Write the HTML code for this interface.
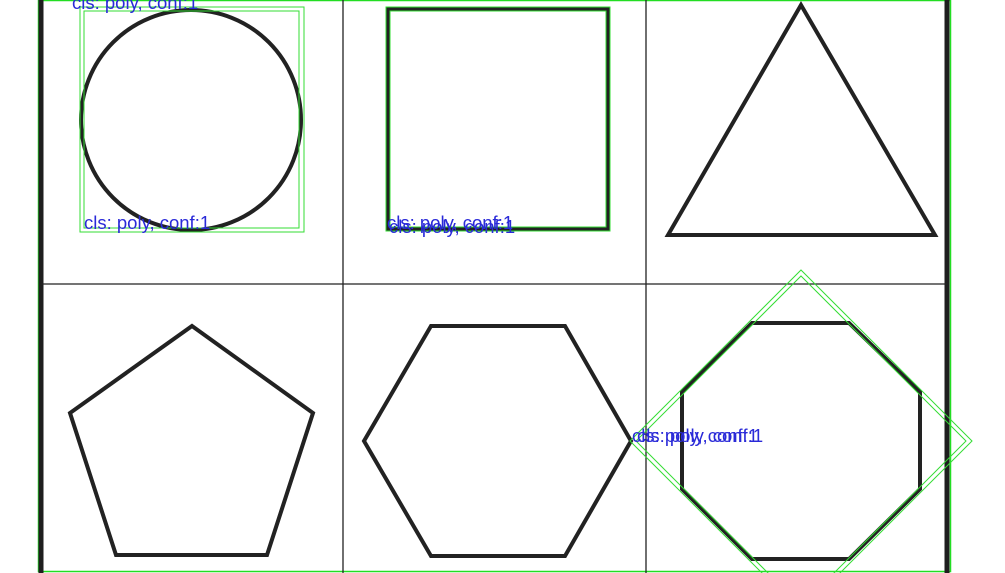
<!DOCTYPE html>
<html><head><meta charset="utf-8">
<style>
html,body{margin:0;padding:0;background:#fff;width:1005px;height:573px;overflow:hidden}
svg{display:block;overflow:hidden}
text{font-family:"Liberation Sans",sans-serif;font-size:18.5px;fill:#2a2ad8}
</style></head>
<body>
<svg id="c" width="1005" height="573" viewBox="0 0 1005 573" xmlns="http://www.w3.org/2000/svg"><defs><clipPath id="clip"><rect x="0" y="0" width="1005" height="573"/></clipPath></defs><g id="g" clip-path="url(#clip)"></g></svg>
<script>
const circleShape = [191, 120, 110];
const squareShape = [[388,9],[608,9],[608,229],[388,229]];
const triangleShape = [[801,5],[935,235],[668,235]];
const pentagonShape = [[192,326],[313,413],[267,555],[116,555],[70,413]];
const hexagonShape = [[431,326],[565,326],[631,441],[565,556],[431,556],[364,441]];
const octagonShape = [[752,323],[849,323],[920,392],[920,489],[849,559],[752,559],[682,489],[682,392]];
const gridXs = [343, 646];
const gridYs = [284];
const detBoxes = [
  [[80,7],[304,7],[304,232],[80,232]],
  [[84,11],[299,11],[299,228],[84,228]],
  [[386,7],[610,7],[610,231],[386,231]],
  [[390,11],[606,11],[606,227],[390,227]],
  [[801,270],[972,441],[801,612],[630,441]],
  [[801,276],[966,441],[801,606],[636,441]]
];
const labels = [[72,9],[84,229],[387,229],[389,233],[632,442],[637,442]];
const labelText = "cls: poly, conf:1";

const svg = document.getElementById('g');
const NS = 'http://www.w3.org/2000/svg';
function mk(tag, attrs){const e=document.createElementNS(NS,tag);for(const k in attrs)e.setAttribute(k,attrs[k]);svg.appendChild(e);return e;}
const pts = a => a.map(p=>p.join(',')).join(' ');

let e = mk('rect',{x:38.5,y:0.5,width:912,height:571,fill:'none',stroke:'#22dd22','stroke-width':1.5});


e = mk('line',{x1:41,y1:0,x2:41,y2:573,stroke:'#1e1e1e','stroke-width':5});


e = mk('line',{x1:947,y1:0,x2:947,y2:573,stroke:'#1e1e1e','stroke-width':5});


gridXs.forEach(x=>{
  const l = mk('line',{x1:x,y1:0,x2:x,y2:573,stroke:'#222','stroke-width':1.3});
  
  
});
gridYs.forEach(y=>{
  const l = mk('line',{x1:41,y1:y,x2:947,y2:y,stroke:'#222','stroke-width':1.3});
  
  
});

const sty = {fill:'none',stroke:'#222','stroke-width':4,'stroke-linejoin':'miter'};
e = mk('circle',Object.assign({cx:circleShape[0],cy:circleShape[1],r:circleShape[2]},sty));


[['square-shape',squareShape],['triangle-shape',triangleShape],['pentagon-shape',pentagonShape],['hexagon-shape',hexagonShape],['octagon-shape',octagonShape]].forEach(([n,a])=>{
  const p = mk('polygon',Object.assign({points:pts(a)},sty));
  
  
});
detBoxes.forEach(b=>{
  const p = mk('polygon',{points:pts(b),fill:'none',stroke:'#33dd33','stroke-width':1});
  
  
});
labels.forEach(l=>{
  const t = mk('text',{x:l[0],y:l[1]});
  t.textContent = labelText;
  
  
});
</script>
</body></html>
